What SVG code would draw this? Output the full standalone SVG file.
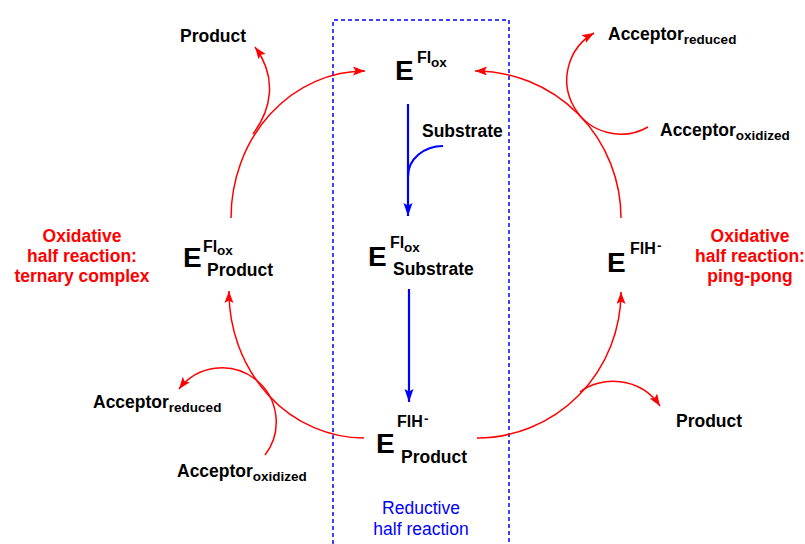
<svg xmlns="http://www.w3.org/2000/svg" width="805" height="544" viewBox="0 0 805 544">
<defs>
<style>
text{font-family:"Liberation Sans",Arial,sans-serif;font-weight:bold;fill:#000}
.lab{font-size:17.5px}
.bigE{font-size:28px}
.sup{font-size:16px}
.sm{font-size:13.5px}
.red{fill:#ff0000}
.blue{fill:#0000ff;font-weight:normal}
.rl{fill:none;stroke:#ff0000;stroke-width:1.5}
.bl{fill:none;stroke:#0000ff;stroke-width:2.2}
</style>
<marker id="ra" markerUnits="userSpaceOnUse" markerWidth="14" markerHeight="10" refX="12" refY="4.5" orient="auto">
<path d="M0,0 L12,4.5 L0,9 L2.5,4.5 z" fill="#ff0000"/>
</marker>
<marker id="ba" markerUnits="userSpaceOnUse" markerWidth="15" markerHeight="10" refX="13" refY="4.5" orient="auto">
<path d="M0,0 L13,4.5 L0,9 L2.5,4.5 z" fill="#0000ff"/>
</marker>
</defs>
<rect width="805" height="544" fill="#fff"/>
<path d="M333 544 V20 H509 V544" fill="none" stroke="#0000ff" stroke-width="1.5" stroke-dasharray="4 3"/>

<g id="connectors">
<path class="rl" d="M231 218 A134 147 0 0 1 365 71" marker-end="url(#ra)"/>
<path class="rl" d="M621 218 A146 147 0 0 0 475 71" marker-end="url(#ra)"/>
<path class="rl" d="M364 438 A135 146 0 0 1 229 291" marker-end="url(#ra)"/>
<path class="rl" d="M477 438 A144 146 0 0 0 621 292" marker-end="url(#ra)"/>
<path class="rl" d="M253 134 C271 110 278 78 255 47" marker-end="url(#ra)"/>
<path class="rl" d="M648 127 A52 52 0 1 1 594 33" marker-end="url(#ra)"/>
<path class="rl" d="M265 455 A52 52 0 1 0 179 389" marker-end="url(#ra)"/>
<path class="rl" d="M580 392 C600 376 640 376 660 406" marker-end="url(#ra)"/>
<path class="bl" d="M408 104 V216" marker-end="url(#ba)"/>
<path class="bl" d="M443 146 A35 30 0 0 0 408 176" stroke-width="1.5"/>
<path class="bl" d="M409 289 V402" marker-end="url(#ba)"/>
</g>

<g id="node-E-Flox">
<text x="395" y="80" class="bigE">E</text>
<text x="417" y="63" class="sup">Fl</text>
<text x="431" y="67" class="sm">ox</text>
</g>
<g id="node-E-Flox-Substrate">
<text x="368" y="266" class="bigE">E</text>
<text x="390" y="248" class="sup">Fl</text>
<text x="404" y="252" class="sm">ox</text>
<text x="393" y="275" class="lab">Substrate</text>
</g>
<g id="node-E-FlH-Product">
<text x="376" y="453" class="bigE">E</text>
<text x="397" y="427" class="sup">FlH</text>
<text x="424" y="423" class="sm">-</text>
<text x="401" y="463" class="lab">Product</text>
</g>
<g id="node-E-Flox-Product">
<text x="183" y="267" class="bigE">E</text>
<text x="203" y="252" class="sup">Fl</text>
<text x="217" y="255" class="sm">ox</text>
<text x="207" y="276" class="lab">Product</text>
</g>
<g id="node-E-FlH">
<text x="607" y="272" class="bigE">E</text>
<text x="630" y="254" class="sup">FlH</text>
<text x="657" y="250" class="sm">-</text>
</g>

<g id="label-substrate"><text x="422" y="137" class="lab">Substrate</text></g>
<g id="label-product-tl"><text x="180" y="42" class="lab">Product</text></g>
<g id="label-product-br"><text x="676" y="427" class="lab">Product</text></g>
<g id="label-acc-red-tr"><text x="608" y="40" class="lab">Acceptor<tspan class="sm" dy="3.5">reduced</tspan></text></g>
<g id="label-acc-ox-tr"><text x="660" y="136" class="lab">Acceptor<tspan class="sm" dy="3.5">oxidized</tspan></text></g>
<g id="label-acc-red-bl"><text x="93" y="408" class="lab">Acceptor<tspan class="sm" dy="3.5">reduced</tspan></text></g>
<g id="label-acc-ox-bl"><text x="177" y="477" class="lab">Acceptor<tspan class="sm" dy="3.5">oxidized</tspan></text></g>

<g id="label-ternary">
<text class="lab red" text-anchor="middle" x="82" y="242">Oxidative</text>
<text class="lab red" text-anchor="middle" x="82" y="262">half reaction:</text>
<text class="lab red" text-anchor="middle" x="82" y="282">ternary complex</text>
</g>
<g id="label-pingpong">
<text class="lab red" text-anchor="middle" x="750" y="242">Oxidative</text>
<text class="lab red" text-anchor="middle" x="750" y="262">half reaction:</text>
<text class="lab red" text-anchor="middle" x="750" y="282">ping-pong</text>
</g>
<g id="label-reductive">
<text class="lab blue" text-anchor="middle" x="421" y="514">Reductive</text>
<text class="lab blue" text-anchor="middle" x="421" y="535">half reaction</text>
</g>
</svg>
